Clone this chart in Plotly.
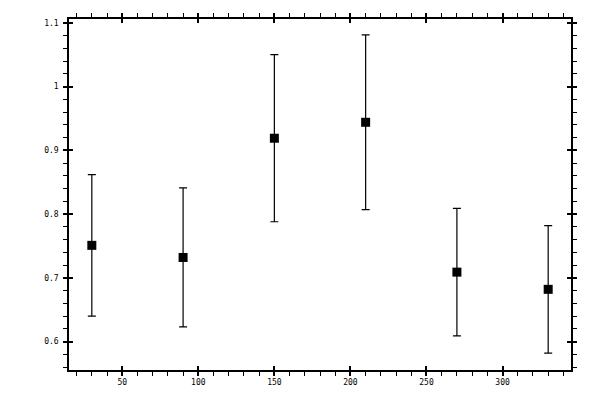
import plotly.graph_objects as go

x_vals = [30, 90, 150, 210, 270, 330]
y_vals = [0.751, 0.732, 0.919, 0.944, 0.709, 0.682]
err_vals = [0.111, 0.109, 0.131, 0.137, 0.100, 0.100]

x_range = [15, 345]
y_range = [0.5555, 1.106]
x_ticks = [50, 100, 150, 200, 250, 300]
y_ticks = [0.6, 0.7, 0.8, 0.9, 1.0, 1.1]
y_labels = ["0.6", "0.7", "0.8", "0.9", "1", "1.1"]

fig = go.Figure()
fig.add_trace(go.Scatter(
    x=x_vals, y=y_vals, mode="markers",
    marker=dict(symbol="square", size=9, color="black", line=dict(width=0)),
    error_y=dict(type="data", array=err_vals, visible=True, color="black",
                 thickness=1.2, width=4),
    showlegend=False,
))

font = dict(family="DejaVu Sans Mono", size=8, color="black")
common = dict(showgrid=False, zeroline=False, showline=True, linecolor="black",
              linewidth=1.5, mirror="allticks", ticks="outside", ticklen=4,
              tickwidth=1.5, tickcolor="black", tickfont=font, automargin=False)

fig.update_layout(
    width=600, height=400,
    margin=dict(l=69, r=29, t=19, b=30),
    paper_bgcolor="white", plot_bgcolor="white",
    xaxis=dict(range=x_range, tickvals=x_ticks,
               minor=dict(dtick=10, ticks="outside", ticklen=4, tickwidth=1, tickcolor="black"),
               **common),
    yaxis=dict(range=y_range, tickvals=y_ticks, ticktext=y_labels,
               minor=dict(dtick=0.02, tick0=0.6, ticks="outside", ticklen=4, tickwidth=1, tickcolor="black"),
               ticklabelstandoff=3,
               **common),
    xaxis2=dict(range=x_range, overlaying="x", tickvals=x_ticks,
                showticklabels=False, showgrid=False, zeroline=False, showline=False,
                mirror="allticks", ticks="inside", ticklen=4, tickwidth=1.5, tickcolor="black"),
    yaxis2=dict(range=y_range, overlaying="y", tickvals=y_ticks,
                showticklabels=False, showgrid=False, zeroline=False, showline=False,
                mirror="allticks", ticks="inside", ticklen=4, tickwidth=1.5, tickcolor="black"),
)
fig.add_trace(go.Scatter(x=[None], y=[None], xaxis="x2", yaxis="y2", showlegend=False, hoverinfo="skip"))

fig.write_html("out.html", config={"displayModeBar": False},
               post_script="document.body.style.margin='0';document.body.style.overflow='hidden';")
